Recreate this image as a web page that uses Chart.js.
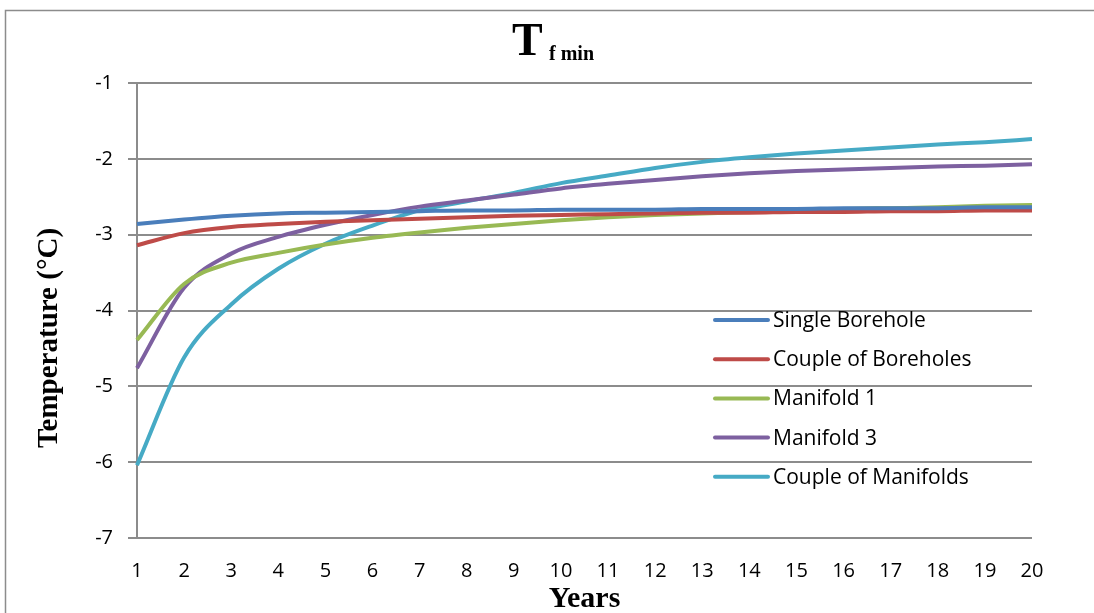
<!DOCTYPE html>
<html>
<head>
<meta charset="utf-8">
<script src="https://cdn.jsdelivr.net/npm/chart.js@4"></script>
<style>
  html, body { margin: 0; padding: 0; background: #fff; }
  #wrap { width: 1094px; height: 613px; position: relative; }
</style>
</head>
<body>
<div id="wrap"><canvas id="chart" width="1094" height="613"></canvas></div>
<script>
const years = ["1","2","3","4","5","6","7","8","9","10","11","12","13","14","15","16","17","18","19","20"];

const singleBorehole = [-2.86, -2.80, -2.75, -2.72, -2.71, -2.70, -2.69, -2.68, -2.68, -2.67, -2.67, -2.67, -2.66, -2.66, -2.66, -2.65, -2.65, -2.65, -2.64, -2.64];
const coupleBoreholes = [-3.14, -2.98, -2.90, -2.86, -2.83, -2.81, -2.79, -2.77, -2.75, -2.74, -2.73, -2.72, -2.71, -2.71, -2.70, -2.70, -2.69, -2.69, -2.68, -2.68];
const manifold1 = [-4.39, -3.65, -3.37, -3.24, -3.13, -3.04, -2.97, -2.91, -2.86, -2.81, -2.77, -2.74, -2.72, -2.70, -2.68, -2.66, -2.65, -2.64, -2.62, -2.61];
const manifold3 = [-4.76, -3.70, -3.25, -3.03, -2.87, -2.74, -2.63, -2.55, -2.47, -2.39, -2.33, -2.28, -2.23, -2.19, -2.16, -2.14, -2.12, -2.10, -2.09, -2.07];
const coupleManifolds = [-6.04, -4.62, -3.92, -3.45, -3.12, -2.88, -2.68, -2.56, -2.45, -2.32, -2.22, -2.12, -2.04, -1.98, -1.93, -1.89, -1.85, -1.81, -1.78, -1.74];

const seriesNames = ["Single Borehole", "Couple of Boreholes", "Manifold 1", "Manifold 3", "Couple of Manifolds"];
const seriesColors = ["#4a7ebb", "#be4b48", "#98b954", "#7d60a0", "#46aac5"];
const seriesData = [singleBorehole, coupleBoreholes, manifold1, manifold3, coupleManifolds];

const gridColor = "#8c8c8c";
const tickFont = { family: "'Open Sans', 'Noto Sans', sans-serif", size: 20 };

// frame, title, y title and legend drawn on the canvas
const decorations = {
    id: "decorations",
    beforeDraw(chart) {
        const ctx = chart.ctx;
        ctx.save();
        ctx.strokeStyle = "#8c8c8c";
        ctx.lineWidth = 1.5;
        ctx.strokeRect(5.5, 10.5, 1200, 700);
        ctx.restore();
    },
    afterDraw(chart) {
        const ctx = chart.ctx;
        ctx.save();
        ctx.fillStyle = "#000";
        ctx.textBaseline = "alphabetic";
        ctx.font = "bold 46px 'Liberation Serif', serif";
        ctx.fillText("T", 512, 55);
        ctx.font = "bold 20px 'Liberation Serif', serif";
        ctx.fillText("f min", 549, 60);

        // y axis title (sits lower than the plot centre in the original)
        ctx.save();
        ctx.translate(50, 338);
        ctx.rotate(-Math.PI / 2);
        ctx.textAlign = "center";
        ctx.textBaseline = "middle";
        ctx.font = "bold 29px 'Liberation Serif', serif";
        ctx.fillText("Temperature (°C)", 0, 0);
        ctx.restore();

        // legend
        const x0 = 715, y0 = 320, step = 39.2;
        seriesNames.forEach((name, i) => {
            const y = y0 + i * step;
            ctx.strokeStyle = seriesColors[i];
            ctx.lineWidth = 4;
            ctx.lineCap = "round";
            ctx.beginPath();
            ctx.moveTo(x0, y);
            ctx.lineTo(x0 + 53, y);
            ctx.stroke();
            ctx.fillStyle = "#000";
            ctx.font = "21px 'Open Sans', 'Noto Sans', sans-serif";
            ctx.textBaseline = "middle";
            ctx.fillText(name, x0 + 58, y + 1);
        });
        ctx.restore();
    }
};

new Chart(document.getElementById("chart"), {
    type: "line",
    data: {
        labels: years,
        datasets: seriesNames.map((name, i) => ({
            label: name,
            data: seriesData[i],
            borderColor: seriesColors[i],
            backgroundColor: seriesColors[i],
            borderWidth: 4,
            pointRadius: 0,
            cubicInterpolationMode: "monotone",
            fill: false
        }))
    },
    options: {
        responsive: false,
        animation: false,
        layout: { padding: { top: 83, right: 62, left: 0, bottom: 0 } },
        plugins: {
            legend: { display: false },
            title: { display: false },
            tooltip: { enabled: false }
        },
        scales: {
            x: {
                offset: false,
                grid: { display: false, drawTicks: false },
                border: { display: false },
                ticks: { color: "#000", font: tickFont, padding: 21, maxRotation: 0, autoSkip: false },
                title: {
                    display: true, text: "Years", color: "#000",
                    font: { family: "'Liberation Serif', serif", size: 30, weight: "bold" },
                    padding: { top: 0, bottom: -4 }
                },
                afterFit(scale) { scale.height = 75; }
            },
            y: {
                min: -7, max: -1,
                ticks: { stepSize: 1, color: "#000", font: tickFont, padding: 15 },
                grid: { color: gridColor, lineWidth: 2, tickLength: 9, drawTicks: true, tickColor: gridColor },
                border: { display: true, color: gridColor, width: 2 },
                afterFit(scale) { scale.width = 137; }
            }
        }
    },
    plugins: [decorations]
});
</script>
</body>
</html>
